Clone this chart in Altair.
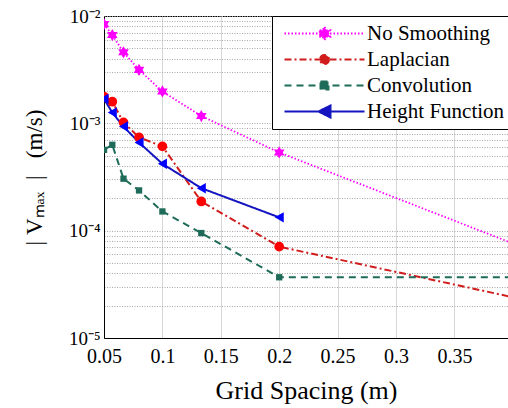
import math

import altair as alt
import pandas as pd

# Grid spacings (m) and peak spurious velocities |V_max| (m/s)
grid_spacing = [0.05, 0.0571, 0.0667, 0.08, 0.1, 0.1333, 0.2, 0.4]
no_smoothing = [8.4e-3, 6.65e-3, 4.59e-3, 3.15e-3, 1.98e-3, 1.17e-3, 5.35e-4, 7.6e-5]
laplacian = [1.77e-3, 1.59e-3, 1.02e-3, 7.4e-4, 6.1e-4, 1.87e-4, 7.1e-5, 2.4e-5]
convolution = [5.66e-4, 6.31e-4, 3.05e-4, 2.37e-4, 1.51e-4, 9.5e-5, 3.68e-5, 3.68e-5]
height_function = [1.69e-3, 1.26e-3, 9.33e-4, 6.63e-4, 4.2e-4, 2.49e-4, 1.33e-4]

series_names = ["No Smoothing", "Laplacian", "Convolution", "Height Function"]
series_values = [no_smoothing, laplacian, convolution, height_function]

x_ticks = [0.05, 0.1, 0.15, 0.2, 0.25, 0.3, 0.35]
y_grid = [k * 10.0 ** e for e in (-5, -4, -3) for k in range(1, 10)] + [1e-2]

rows = []
for name, vals in zip(series_names, series_values):
    for xv, yv in zip(grid_spacing, vals):
        rows.append({"series": name, "spacing": xv, "vmax": yv})
df = pd.DataFrame(rows)
legend_df = pd.DataFrame({"series": series_names})


def hexagram(cx, r):
    pts = []
    for i in range(12):
        a = math.radians(-90 + 30 * i)
        rr = r if i % 2 == 0 else r / math.sqrt(3)
        pts.append(f"{cx + rr * math.cos(a):.3f},{rr * math.sin(a):.3f}")
    return "M" + "L".join(pts) + "Z"


# styles per series
line_colors = ["#ff00ff", "#d01c1c", "#1d6b58", "#1414c0"]
marker_colors = ["#ff00ff", "#ff0000", "#1d6b58", "#0000ff"]
dashes = [[1.5, 2], [7, 3, 2, 3], [7, 5], [1, 0]]
line_widths = [1.8, 2, 2, 2]
marker_shapes = [hexagram(0, 1), "circle", "square", "triangle-left"]
marker_sizes = [150, 95, 40, 110]

# legend glyphs: a line segment with the marker in its middle
legend_shapes = [
    "M-1,0H15" + hexagram(7, 1.3),
    "M-1,0H15M7.9,0A0.9,0.9 0 1,1 6.1,0A0.9,0.9 0 1,1 7.9,0Z",
    "M-1,0H15M6.2,-0.8H7.8V0.8H6.2Z",
    "M-1,0H15M5.8,0L8.2,-1.2L8.2,1.2Z",
]

FONT = "Liberation Serif"
NBSP = "\u00a0"

x_enc = alt.X(
    "spacing:Q",
    scale=alt.Scale(domain=[0.05, 0.3959], nice=False, zero=False),
    axis=alt.Axis(
        values=x_ticks,
        format="~g",
        title="Grid Spacing (m)",
        grid=True,
        gridColor="#d6d6d6",
        gridWidth=1,
        labelFont=FONT,
        titleFont=FONT,
        labelFontSize=20,
        labelPadding=8,
        labelFlush=False,
        titleFontSize=26,
        titlePadding=11,
        titleFontWeight="normal",
        labelColor="black",
        titleColor="black",
        domainColor="black",
        tickSize=0,
    ),
)

label_expr = (
    "abs(log(datum.value)/LN10 - round(log(datum.value)/LN10)) < 0.001 ? "
    "(round(log(datum.value)/LN10) == -2 ? '10⁻²' : "
    "round(log(datum.value)/LN10) == -3 ? '10⁻³' : "
    "round(log(datum.value)/LN10) == -4 ? '10⁻⁴' : '10⁻⁵') : ''"
)

y_title = "|" + NBSP + "Vₘₐₓ" + NBSP + NBSP + "|" + NBSP * 3 + "(m/s)"

y_enc = alt.Y(
    "vmax:Q",
    scale=alt.Scale(type="log", domain=[1e-5, 1e-2], nice=False),
    axis=alt.Axis(
        values=y_grid,
        labelExpr=label_expr,
        labelOverlap=False,
        labelFlush=False,
        title=y_title,
        grid=True,
        gridColor="#a8a8a8",
        gridDash=[1, 1.5],
        gridWidth=1,
        labelFont=FONT,
        titleFont=FONT,
        labelFontSize=19,
        labelPadding=4,
        titleFontSize=23,
        titlePadding=22,
        titleFontWeight="normal",
        labelColor="black",
        titleColor="black",
        domainColor="black",
        tickSize=0,
    ),
)

layers = []
for name, col, dash, lw in zip(series_names, line_colors, dashes, line_widths):
    layers.append(
        alt.Chart(df)
        .transform_filter(alt.datum.series == name)
        .mark_line(color=col, strokeDash=dash, strokeWidth=lw, clip=True)
        .encode(x=x_enc, y=y_enc, order="spacing:Q")
    )
for name, col, shp, sz in zip(series_names, marker_colors, marker_shapes, marker_sizes):
    layers.append(
        alt.Chart(df)
        .transform_filter(alt.datum.series == name)
        .mark_point(shape=shp, size=sz, color=col, filled=True, opacity=1, clip=True)
        .encode(x=x_enc, y=y_enc)
    )

leg = alt.Legend(
    title=None,
    orient="none",
    legendX=168,
    legendY=0,
    labelFont=FONT,
    labelFontSize=21,
    labelColor="black",
    labelOffset=67,
    labelLimit=0,
    symbolSize=100,
    symbolStrokeWidth=2,
    strokeColor="black",
    fillColor="white",
    padding=7,
    rowPadding=4,
)

legend_layer = (
    alt.Chart(legend_df)
    .transform_filter("false")
    .mark_point(filled=True, opacity=1, strokeWidth=2)
    .encode(
        fill=alt.Fill("series:N", scale=alt.Scale(domain=series_names, range=line_colors), legend=leg),
        stroke=alt.Stroke("series:N", scale=alt.Scale(domain=series_names, range=line_colors), legend=leg),
        shape=alt.Shape("series:N", scale=alt.Scale(domain=series_names, range=legend_shapes), legend=leg),
        strokeDash=alt.StrokeDash("series:N", scale=alt.Scale(domain=series_names, range=dashes), legend=leg),
    )
)
layers.append(legend_layer)

chart = (
    alt.layer(*layers)
    .properties(
        width=404,
        height=322,
        autosize=alt.AutoSizeParams(type="none"),
        padding={"left": 104, "top": 16, "right": 0, "bottom": 70},
        background="white",
    )
    .configure_view(stroke="black", strokeWidth=1)
)

chart.save("out.html", embed_options={"renderer": "svg", "actions": False})
